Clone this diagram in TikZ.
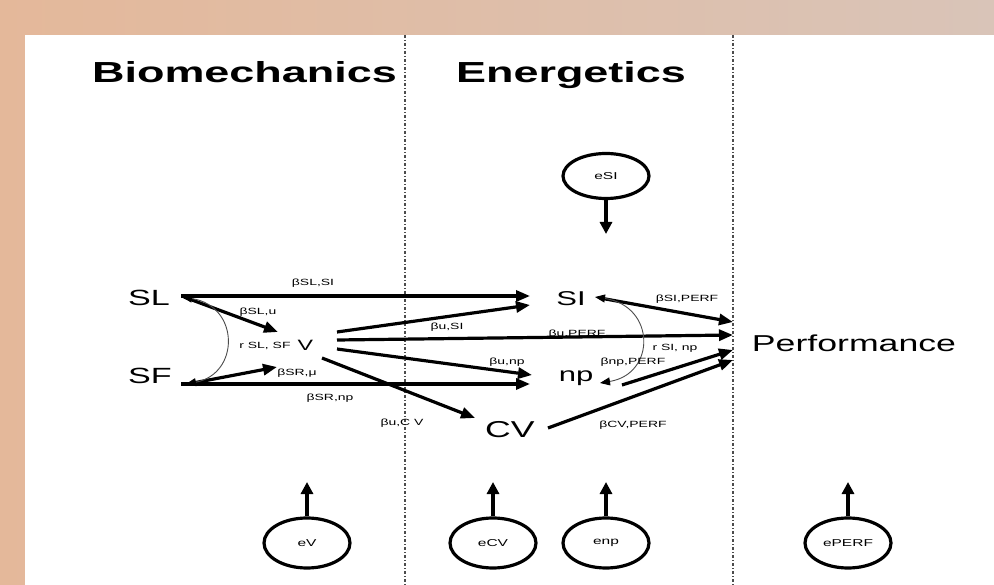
\documentclass[tikz,border=0pt]{standalone}
\usepackage{fontspec}
\newfontfamily\wide[FakeStretch=1.55]{Liberation Sans}
\usetikzlibrary{arrows.meta,shapes.geometric}
\definecolor{bgL}{RGB}{228,184,154}
\definecolor{bgR}{RGB}{217,196,184}
\tikzset{
  lbl/.style={font=\wide\fontsize{9}{10}\selectfont, inner sep=0pt},
  var/.style={font=\wide, inner sep=0pt, anchor=base},
  title/.style={font=\wide\bfseries\fontsize{29}{30}\selectfont, inner sep=0pt, anchor=base},
  path/.style={line width=3.2pt, -{Triangle[length=14pt,width=11pt]}},
  corr/.style={line width=0.9pt, draw=black!70, {Triangle[length=10pt,width=8pt,color=black]}-{Triangle[length=10pt,width=8pt,color=black]}},
  err/.style={draw, line width=3.2pt, ellipse, minimum width=86pt, minimum height=50pt, inner sep=0pt, font=\wide\fontsize{10}{11}\selectfont},
  errarrow/.style={line width=3.6pt, -{Triangle[length=12pt,width=12pt]}},
  divider/.style={draw=black!70, line width=1.2pt, dash pattern=on 3pt off 2pt on 1pt off 2pt}
}
\begin{document}
\begin{tikzpicture}[x=1pt,y=-1pt]
\useasboundingbox (0,0) rectangle (994,585);
\shade[left color=bgL, right color=bgR] (0,0) rectangle (994,585);
\fill[white] (25,35) rectangle (994,585);
% dividers
\draw[divider] (405,35) -- (405,585);
\draw[divider] (733,35) -- (733,585);
% titles
\node[title] (tB) at (244.5,83) {Biomechanics};
\node[title] (tE) at (571,83) {Energetics};
% variables
\node[var, font=\wide\fontsize{22}{24}\selectfont] (SL) at (149,306) {SL};
\node[var, font=\wide\fontsize{22}{24}\selectfont] (SF) at (150,384) {SF};
\node[var, font=\wide\fontsize{15}{16}\selectfont] (V) at (305.5,351) {V};
\node[var, font=\wide\fontsize{20}{22}\selectfont] (SI) at (571,306) {SI};
\node[var, font=\wide\fontsize{20}{22}\selectfont] (np) at (576,382) {np};
\node[var, font=\wide\fontsize{23}{25}\selectfont] (CV) at (510,437) {CV};
\node[var, font=\wide\fontsize{23}{25}\selectfont] (Perf) at (854,352) {Performance};
% connector end points
\coordinate (SLa) at (181,296);
\coordinate (SLb) at (184,297);
\coordinate (SFa) at (181,384);
\coordinate (SFb) at (193,383);
\coordinate (Vin1) at (278,332);
\coordinate (Vin2) at (277,367);
\coordinate (Vo1) at (337,332);
\coordinate (Vo2) at (337,340);
\coordinate (Vo3) at (337,349);
\coordinate (Vo4) at (322,358);
\coordinate (SIin1) at (530,296);
\coordinate (SIin2) at (530,305);
\coordinate (SIo) at (600,298);
\coordinate (npin1) at (532,375);
\coordinate (npin2) at (530,384);
\coordinate (npo) at (622,385);
\coordinate (CVin) at (475,418);
\coordinate (CVo) at (548,428);
\coordinate (P1) at (733,322);
\coordinate (P2) at (733,335);
\coordinate (P3) at (733,350);
\coordinate (P4) at (733,360);
\coordinate (SIc) at (595,297);
\coordinate (npc) at (600,383);
\coordinate (SLc) at (182,297);
\coordinate (SFc) at (186,384);
% paths
\draw[path] (SLa) -- (SIin1);
\draw[path] (SLb) -- (Vin1);
\draw[path] (SFb) -- (Vin2);
\draw[path] (SFa) -- (npin2);
\draw[path] (Vo1) -- (SIin2);
\draw[path] (Vo2) -- (P2);
\draw[path] (Vo3) -- (npin1);
\draw[path] (Vo4) -- (CVin);
\draw[path] (SIo) -- (P1);
\draw[path] (npo) -- (P3);
\draw[path] (CVo) -- (P4);
% correlations
\draw[corr] (SLc) .. controls (240,306) and (240,374) .. (SFc);
\draw[corr] (SIc) .. controls (656,306) and (656,374) .. (npc);
% path labels
\node[lbl] (l1) at (313,283) {βSL,SI};
\node[lbl] (l2) at (258,312) {βSL,u};
\node[lbl] (l3) at (265,346) {r SL, SF};
\node[lbl] (l4) at (297,373) {βSR,μ};
\node[lbl] (l5) at (330,398) {βSR,np};
\node[lbl] (l6) at (402,423) {βu,C V};
\node[lbl] (l7) at (447,327) {βu,SI};
\node[lbl] (l8) at (577,334) {βu,PERF};
\node[lbl] (l9) at (507,362) {βu,np};
\node[lbl] (l10) at (687,299) {βSI,PERF};
\node[lbl] (l11) at (675,348) {r SI, np};
\node[lbl] (l12) at (633,362) {βnp,PERF};
\node[lbl] (l13) at (633,425) {βCV,PERF};
% error terms
\node[err, minimum height=45pt] (eSI) at (606,176) {eSI};
\node[err] (eV) at (307,543) {eV};
\node[err] (eCV) at (493,543) {eCV};
\node[err] (enp) at (606,543) {enp};
\node[err] (ePERF) at (848,543) {ePERF};
\coordinate (eSIt) at (606,234);
\coordinate (eVt) at (307,482);
\coordinate (eCVt) at (493,482);
\coordinate (enpt) at (606,482);
\coordinate (ePERFt) at (848,482);
\draw[errarrow] (eSI.south) -- (eSIt);
\draw[errarrow] (eV.north) -- (eVt);
\draw[errarrow] (eCV.north) -- (eCVt);
\draw[errarrow] (enp.north) -- (enpt);
\draw[errarrow] (ePERF.north) -- (ePERFt);
\end{tikzpicture}
\end{document}
